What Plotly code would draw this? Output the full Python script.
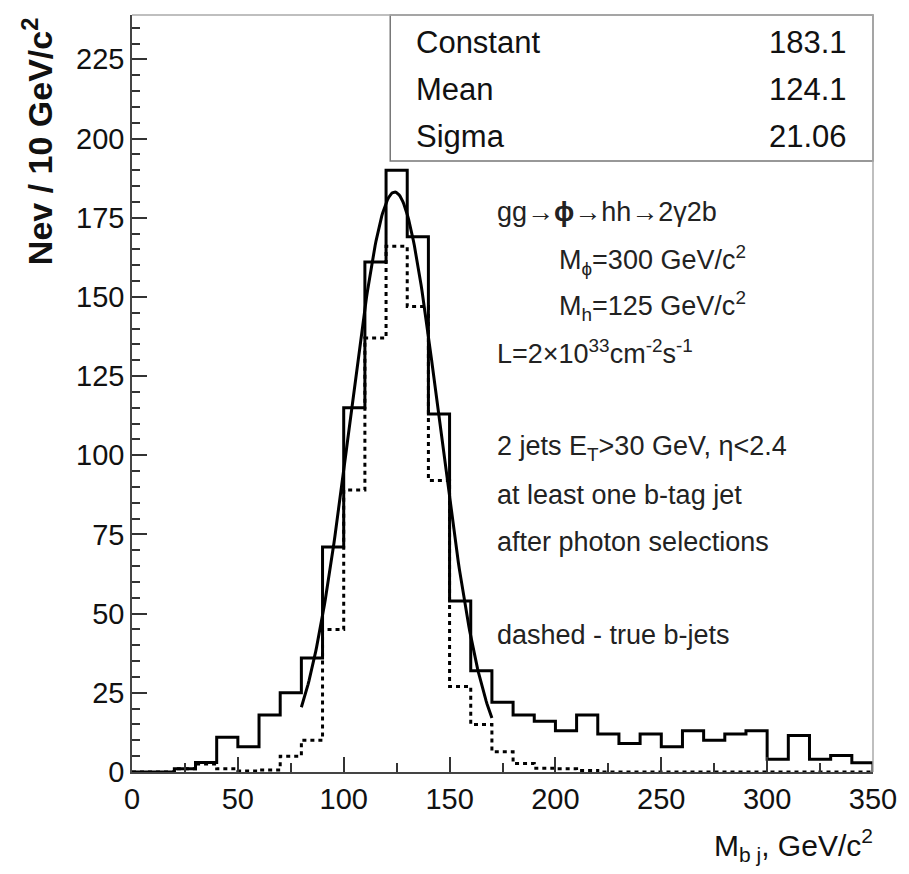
import numpy as np
import plotly.graph_objects as go

# 10 GeV/c^2 bins of the b-jet pair invariant mass
bin_width = 10
bin_low = list(range(0, 350, bin_width))

# all selected events (solid histogram)
all_events = [0, 0, 1, 3, 11, 8, 18, 25, 36, 71,
              115, 161, 190, 169, 113, 54, 32, 22, 18, 16,
              13, 18, 12, 9, 12, 8, 13, 10, 12, 13,
              4, 11.5, 4, 5.2, 2.9]

# events with true b-jets (dashed histogram)
true_bjets = [0, 0, 1, 2.5, 1, 0.3, 0.6, 5, 10, 45,
              89, 137, 166, 147, 92, 27, 15, 6.4, 2.7, 1.2,
              1, 0.5, 0, 0, 0, 0, 0, 0, 0, 0,
              0, 0, 0, 0, 0]

# Gaussian fit result and fit range
fit_constant = 183.1
fit_mean = 124.1
fit_sigma = 21.06
fit_range = (80, 170)

stat_names = ["Constant", "Mean", "Sigma"]
stat_values = ["183.1", "124.1", "21.06"]

FONT = "Liberation Sans, Arial, Helvetica, sans-serif"


def step_xy(lows, values, width):
    xs = [lows[0]]
    ys = [0]
    for lo, v in zip(lows, values):
        xs.append(lo)
        ys.append(v)
    xs.append(lows[-1] + width)
    ys.append(values[-1])
    xs.append(lows[-1] + width)
    ys.append(0)
    return xs, ys


fig = go.Figure()

xs, ys = step_xy(bin_low, true_bjets, bin_width)
fig.add_trace(go.Scatter(x=xs, y=ys, mode="lines", line_shape="hv",
                         line=dict(color="black", width=3, dash="4px,4px"),
                         hoverinfo="skip"))

xs, ys = step_xy(bin_low, all_events, bin_width)
fig.add_trace(go.Scatter(x=xs, y=ys, mode="lines", line_shape="hv",
                         line=dict(color="black", width=3),
                         hoverinfo="skip"))

fx = np.linspace(fit_range[0], fit_range[1], 200)
fy = fit_constant * np.exp(-0.5 * ((fx - fit_mean) / fit_sigma) ** 2)
fig.add_trace(go.Scatter(x=fx, y=fy, mode="lines",
                         line=dict(color="black", width=3),
                         hoverinfo="skip"))

annotations = []

# physics labels
text_lines = [
    (171.3, 176.7, "gg→<b>ϕ</b>→hh→2γ2b"),
    (200.8, 161.8, "M<sub>ϕ</sub>=300 GeV/c<sup>2</sup>"),
    (200.8, 147.0, "M<sub>h</sub>=125 GeV/c<sup>2</sup>"),
    (171.3, 132.7, "L=2×10<sup>33</sup>cm<sup>-2</sup>s<sup>-1</sup>"),
    (171.3, 102.4, "2 jets E<sub>T</sub>>30 GeV, η<2.4"),
    (171.3, 87.5, "at least one b-tag jet"),
    (171.3, 72.7, "after photon selections"),
    (171.3, 43.3, "dashed - true b-jets"),
]
for x, y, t in text_lines:
    annotations.append(dict(x=x, y=y, xref="x", yref="y", text=t,
                            showarrow=False, xanchor="left", yanchor="middle",
                            font=dict(family=FONT, size=27, color="#222")))

# fit statistics box
row_y = [0.964, 0.902, 0.840]
for name, val, y in zip(stat_names, stat_values, row_y):
    annotations.append(dict(x=0.381, y=y, xref="paper", yref="paper", text=name,
                            showarrow=False, xanchor="left", yanchor="middle",
                            font=dict(family=FONT, size=31, color="#111")))
    annotations.append(dict(x=0.967, y=y, xref="paper", yref="paper", text=val,
                            showarrow=False, xanchor="right", yanchor="middle",
                            font=dict(family=FONT, size=31, color="#111")))

# axis titles
annotations.append(dict(x=-0.128, y=1.0, xref="paper", yref="paper",
                        text="<b>Nev / 10 GeV/c<sup>2</sup></b>", textangle=-90,
                        showarrow=False, xanchor="center", yanchor="top",
                        font=dict(family=FONT, size=34, color="#111")))
annotations.append(dict(x=1.003, y=-0.096, xref="paper", yref="paper",
                        text="M<sub>b j</sub>, GeV/c<sup>2</sup>",
                        showarrow=False, xanchor="right", yanchor="middle",
                        font=dict(family=FONT, size=30, color="#111")))

shapes = [
    dict(type="rect", xref="paper", yref="paper", x0=0.3485, x1=1.0, y0=0.807, y1=1.0,
         line=dict(color="#777", width=1.5), fillcolor="rgba(0,0,0,0)"),
    dict(type="line", xref="paper", yref="paper", x0=0, x1=1, y0=1, y1=1,
         line=dict(color="#aaa", width=1.5)),
    dict(type="line", xref="paper", yref="paper", x0=1, x1=1, y0=0, y1=1,
         line=dict(color="#aaa", width=1.5)),
]

fig.update_layout(
    width=909, height=874,
    margin=dict(l=132, r=31, t=15, b=102),
    paper_bgcolor="white", plot_bgcolor="white",
    showlegend=False,
    annotations=annotations,
    shapes=shapes,
    font=dict(family=FONT, color="#111"),
    xaxis=dict(range=[0, 350], tickmode="array",
               tickvals=[0, 50, 100, 150, 200, 250, 300, 350],
               ticks="inside", ticklen=15, tickwidth=1.5, tickcolor="#333",
               minor=dict(dtick=25, tick0=0, ticks="inside", ticklen=9,
                          tickwidth=1.5, tickcolor="#333"),
               showline=True, linecolor="#444", linewidth=1.5,
               showgrid=False, zeroline=False,
               tickfont=dict(family=FONT, size=29, color="#111")),
    yaxis=dict(range=[0, 239], tickmode="array",
               tickvals=[0, 25, 50, 75, 100, 125, 150, 175, 200, 225],
               ticks="inside", ticklen=15, tickwidth=1.5, tickcolor="#333",
               minor=dict(dtick=5, tick0=0, ticks="inside", ticklen=8,
                          tickwidth=1.5, tickcolor="#333"),
               showline=True, linecolor="#444", linewidth=1.5,
               showgrid=False, zeroline=False,
               tickfont=dict(family=FONT, size=29, color="#111")),
)

fig.write_html("out.html")
